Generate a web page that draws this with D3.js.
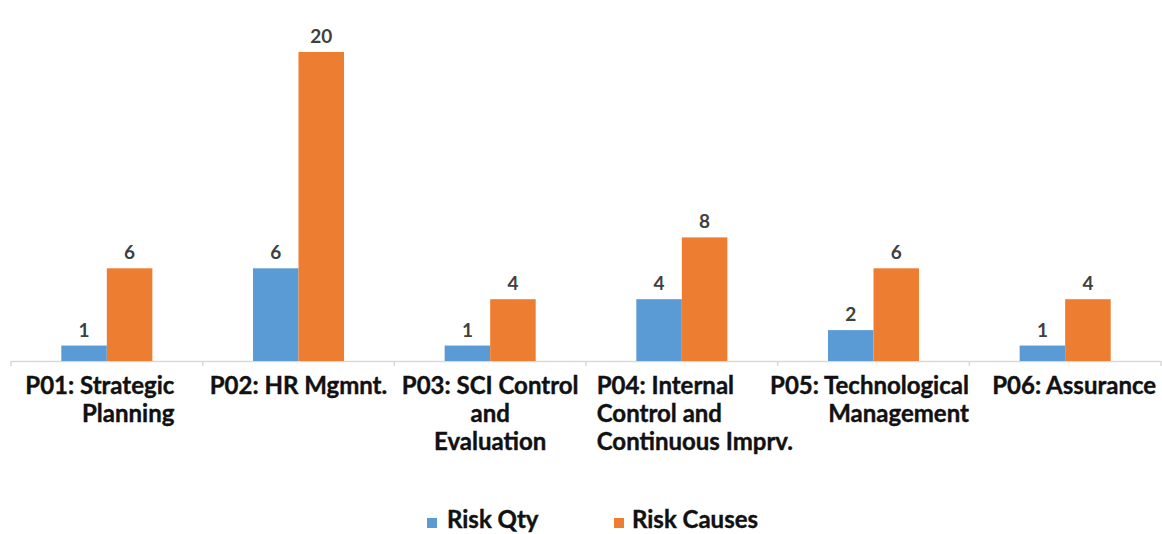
<!DOCTYPE html>
<html><head><meta charset="utf-8">
<script src="https://cdn.jsdelivr.net/npm/d3@7"></script>
<style>
html,body{margin:0;padding:0;background:#fff;}
svg{display:block;font-family:Lato,"DejaVu Sans Condensed",sans-serif;}
</style></head>
<body><svg id="c" width="1162" height="534"></svg>
<script>
const categories = ["P01: Strategic Planning","P02: HR Mgmnt.","P03: SCI Control and Evaluation","P04: Internal Control and Continuous Imprv.","P05: Technological Management","P06: Assurance"];
const categoryLines = [["P01: Strategic","Planning"],["P02: HR Mgmnt."],["P03: SCI Control","and","Evaluation"],["P04: Internal","Control and","Continuous Imprv."],["P05: Technological","Management"],["P06: Assurance"]];
const categoryAlign = ["end","middle","middle","start","end","middle"];
const seriesNames = ["Risk Qty","Risk Causes"];
const riskQty = [1,6,1,4,2,1];
const riskCauses = [6,20,4,8,6,4];
const colors = ["#5B9BD5","#ED7D31"];

const svg = d3.select("#c");
const x = d3.scaleBand().domain(categories).range([11,1161]).paddingInner(0.525).paddingOuter(0.2625);
const xs = d3.scaleBand().domain(seriesNames).range([0,x.bandwidth()]);
const y = d3.scaleLinear().domain([0,20]).range([361,52]);
const series = [riskQty, riskCauses];

// axis line
svg.append("line").attr("x1",11).attr("x2",1161).attr("y1",y(0)+0.5).attr("y2",y(0)+0.5)
  .attr("stroke","#d9d9d9").attr("stroke-width",1.5);
const step = x.step();
d3.range(categories.length+1).forEach(i=>{
  const xx = 11 + i*step;
  svg.append("line").attr("x1",xx).attr("x2",xx).attr("y1",y(0)).attr("y2",y(0)+5).attr("stroke","#d9d9d9").attr("stroke-width",1.5);
});

series.forEach((vals,si)=>{
  const g = svg.append("g");
  g.selectAll("rect").data(vals).join("rect")
    .attr("x",(d,i)=>x(categories[i])+xs(seriesNames[si]))
    .attr("width",xs.bandwidth())
    .attr("y",d=>y(d)).attr("height",d=>y(0)-y(d))
    .attr("fill",colors[si]);
  g.selectAll("text").data(vals).join("text")
    .attr("x",(d,i)=>x(categories[i])+xs(seriesNames[si])+xs.bandwidth()/2)
    .attr("y",d=>y(d)-9)
    .attr("text-anchor","middle").attr("font-size",19).attr("font-weight","bold")
    .attr("fill","#404040").text(d=>d);
});

// category labels (wrapped block centred on band, lines aligned inside block)
const labelNudge = [-7,0,0,13,-4,9];
categories.forEach((c,i)=>{
  const cx = x(c)+x.bandwidth()/2 + labelNudge[i];
  const g = svg.append("g");
  const texts = categoryLines[i].map((ln,j)=>
    g.append("text").attr("font-size",24).attr("font-weight","bold").attr("fill","#111")
      .attr("stroke","#111").attr("stroke-width",0.4)
      .attr("y",394+j*28).text(ln));
  const widths = texts.map(t=>t.node().getComputedTextLength());
  const bw = d3.max(widths);
  const left = cx - bw/2;
  texts.forEach((t,j)=>{
    const a = categoryAlign[i];
    if(a==="start") t.attr("x",left).attr("text-anchor","start");
    else if(a==="end") t.attr("x",left+bw).attr("text-anchor","end");
    else t.attr("x",cx).attr("text-anchor","middle");
  });
});

// legend
const leg = [{x:427,tx:447},{x:614,tx:632}];
seriesNames.forEach((s,i)=>{
  svg.append("rect").attr("x",leg[i].x).attr("y",518).attr("width",10).attr("height",10).attr("fill",colors[i]);
  svg.append("text").attr("x",leg[i].tx).attr("y",528).attr("font-size",24).attr("font-weight","bold")
    .attr("fill","#111").attr("stroke","#111").attr("stroke-width",0.4).text(s);
});
</script></body></html>
